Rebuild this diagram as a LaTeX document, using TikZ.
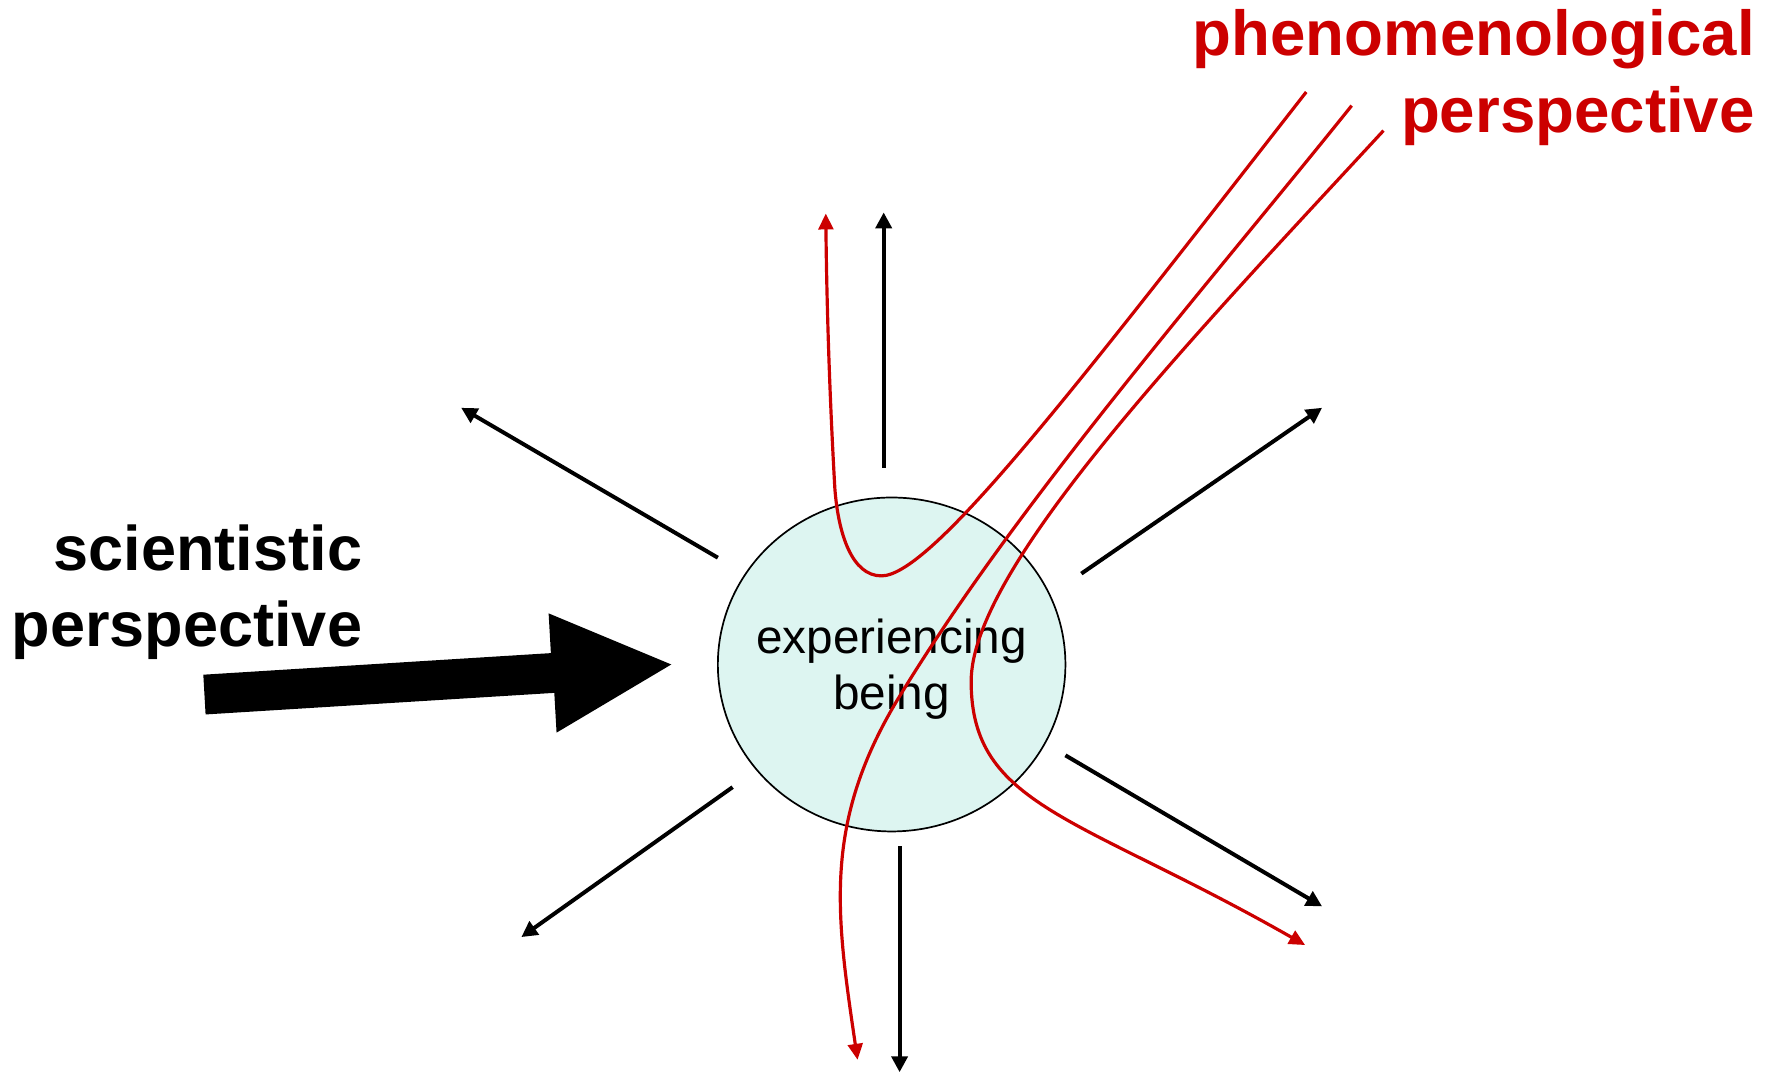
\documentclass[tikz,border=0pt]{standalone}
\usepackage{fontspec}
\setmainfont{Liberation Sans}
\usetikzlibrary{arrows.meta,shapes.geometric}
\definecolor{pred}{RGB}{204,0,0}
\definecolor{cyanfill}{RGB}{221,245,241}
\begin{document}
\begin{tikzpicture}[x=1pt,y=-1pt,
  blk/.style={line width=3.5pt,-{Triangle[length=14pt,width=14pt]}},
  redc/.style={pred,line width=2.8pt,-{Triangle[length=14pt,width=13pt]}},
  lbl/.style={font=\fontsize{55.5}{67}\selectfont\bfseries,inner sep=0pt,align=right},
  beingstyle/.style={ellipse,draw=black,line width=1.5pt,fill=cyanfill,
    minimum width=306pt,minimum height=294pt,inner sep=0pt},
  beingtext/.style={font=\fontsize{42}{50}\selectfont,align=center,inner sep=0pt}]
\useasboundingbox (0,0) rectangle (1568,945);

% central ellipse
\node[beingstyle] (being) at (785,585) {};
\node[beingtext,anchor=base] (beingtxt) at (785,625) {experiencing\\being};

% labels
\node[lbl,anchor=base east] (sci) at (319,569) {scientistic\\perspective};
\node[lbl,anchor=base east,text=pred,font=\fontsize{56}{68}\selectfont\bfseries] (phen) at (1545,117) {phenomenological\\perspective};

% big arrow
\fill[black] (179,594) -- (485,575) -- (483,540) -- (591,585) -- (490,645) -- (488,610) -- (181,629) -- cycle;

% radiating black arrows
\coordinate (uS) at (778,412);  \coordinate (uE) at (778,187);
\coordinate (ulS) at (632,491); \coordinate (ulE) at (406,359);
\coordinate (urS) at (952,505); \coordinate (urE) at (1164,359);
\coordinate (llS) at (645,693); \coordinate (llE) at (459,825);
\coordinate (lrS) at (938,665); \coordinate (lrE) at (1164,798);
\coordinate (dS) at (792,745);  \coordinate (dE) at (792,944);
\draw[blk] (uS) -- (uE);
\draw[blk] (ulS) -- (ulE);
\draw[blk] (urS) -- (urE);
\draw[blk] (llS) -- (llE);
\draw[blk] (lrS) -- (lrE);
\draw[blk] (dS) -- (dE);

% red curves
\coordinate (aS) at (1150,81); \coordinate (aT) at (776,507); \coordinate (aM) at (735,430); \coordinate (aE) at (727,188);
\draw[redc] (aS) .. controls (947,341) and (820,507) .. (aT)
  .. controls (750,507) and (738,470) .. (aM)
  .. controls (731,360) and (728,280) .. (aE);
\coordinate (bS) at (1190,93); \coordinate (bM) at (792,613); \coordinate (bE) at (755,933);
\draw[redc] (bS) .. controls (1065,249) and (896,442) .. (bM)
  .. controls (724,724) and (736,804) .. (bE);
\coordinate (cS) at (1218,115); \coordinate (cM) at (855,600); \coordinate (cE) at (1149,832);
\draw[redc] (cS) .. controls (1048,299) and (855,500) .. (cM)
  .. controls (855,710) and (949,718) .. (cE);
\end{tikzpicture}
\end{document}
